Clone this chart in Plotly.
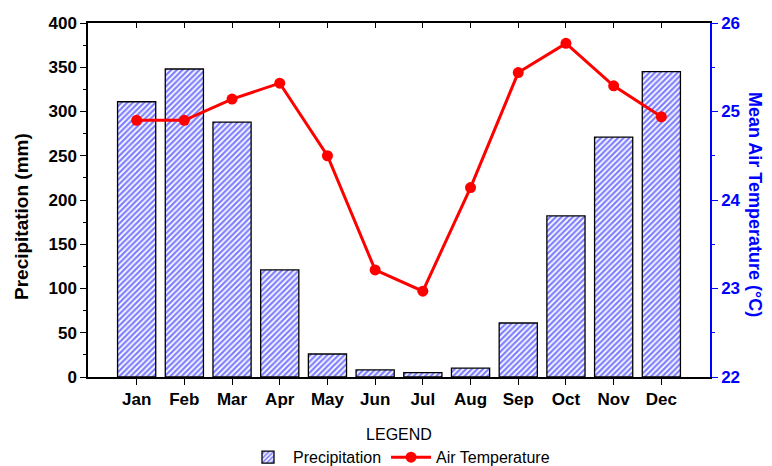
import plotly.graph_objects as go

months = ["Jan", "Feb", "Mar", "Apr", "May", "Jun", "Jul", "Aug", "Sep", "Oct", "Nov", "Dec"]
precip = [311, 348, 288, 121, 26, 8, 5, 10, 61, 182, 271, 345]
temp = [24.90, 24.90, 25.14, 25.32, 24.50, 23.21, 22.97, 24.14, 25.44, 25.77, 25.29, 24.94]

FAM = "Liberation Sans, Arial, sans-serif"

fig = go.Figure()
fig.add_trace(go.Bar(
    x=months, y=precip, name="Precipitation", width=0.8,
    marker=dict(color="white", line=dict(color="black", width=1.3),
                pattern=dict(shape="/", fgcolor="#0000ff", bgcolor="white", size=4, solidity=0.55)),
    yaxis="y"))
fig.add_trace(go.Scatter(
    x=months, y=temp, name="Air Temperature", mode="lines+markers",
    line=dict(color="#ff0000", width=3), marker=dict(color="#ff0000", size=11),
    yaxis="y2"))
# invisible helper trace so the top (mirror) axis with inward ticks gets drawn
fig.add_trace(go.Scatter(
    x=months, y=precip, mode="none", showlegend=False, hoverinfo="skip",
    xaxis="x2", yaxis="y"))

tickf = dict(family=FAM, size=17, color="black", weight="bold")

fig.update_layout(
    width=772, height=466,
    margin=dict(l=80, r=70, t=15, b=97, autoexpand=False),
    plot_bgcolor="white", paper_bgcolor="white",
    font=dict(family=FAM, size=16, color="black"),
    showlegend=True,
    legend=dict(orientation="h", x=0.5, xanchor="center", y=-0.12, yanchor="top",
                title=dict(text="LEGEND", side="top center", font=dict(size=16)),
                font=dict(size=16), bgcolor="rgba(0,0,0,0)", traceorder="normal",
                itemwidth=40, tracegroupgap=0),
    xaxis=dict(range=[-1.02, 12.02], showline=True, linecolor="black", linewidth=1.5,
               mirror=True, ticks="outside", ticklen=6, tickcolor="black",
               tickfont=tickf, showgrid=False, zeroline=False, automargin=False),
    xaxis2=dict(type="category", range=[-1.02, 12.02], overlaying="x", side="top", anchor="y",
                ticks="inside", ticklen=5, tickcolor="black",
                showticklabels=False, showline=False, showgrid=False, zeroline=False),
    yaxis=dict(range=[0, 400], dtick=50, showline=True, linecolor="black", linewidth=1.5,
               ticks="outside", ticklen=6, tickcolor="black",
               minor=dict(dtick=25, ticks="outside", ticklen=3, tickcolor="black"),
               tickfont=tickf, showgrid=False, zeroline=False, automargin=False),
    yaxis2=dict(range=[22, 26], dtick=1, overlaying="y", side="right", showline=True,
                linecolor="#0000ff", linewidth=1.5, ticks="outside", ticklen=6, tickcolor="#0000ff",
                minor=dict(dtick=0.5, ticks="outside", ticklen=3, tickcolor="#0000ff"),
                tickfont=dict(family=FAM, size=17, color="#0000ff", weight="bold"),
                showgrid=False, zeroline=False, automargin=False),
    annotations=[
        dict(text="<b>Precipitation (mm)</b>", xref="paper", yref="paper",
             x=(22 - 88) / 622, y=(377 - 217) / 354, xanchor="center", yanchor="middle",
             textangle=-90, showarrow=False, font=dict(size=19, color="black", family=FAM)),
        dict(text="<b>Mean Air Temperature (°C)</b>", xref="paper", yref="paper",
             x=(755 - 88) / 622, y=(377 - 204) / 354, xanchor="center", yanchor="middle",
             textangle=90, showarrow=False, font=dict(size=18, color="#0000ff", family=FAM)),
    ],
)

fig.write_html("out.html")
